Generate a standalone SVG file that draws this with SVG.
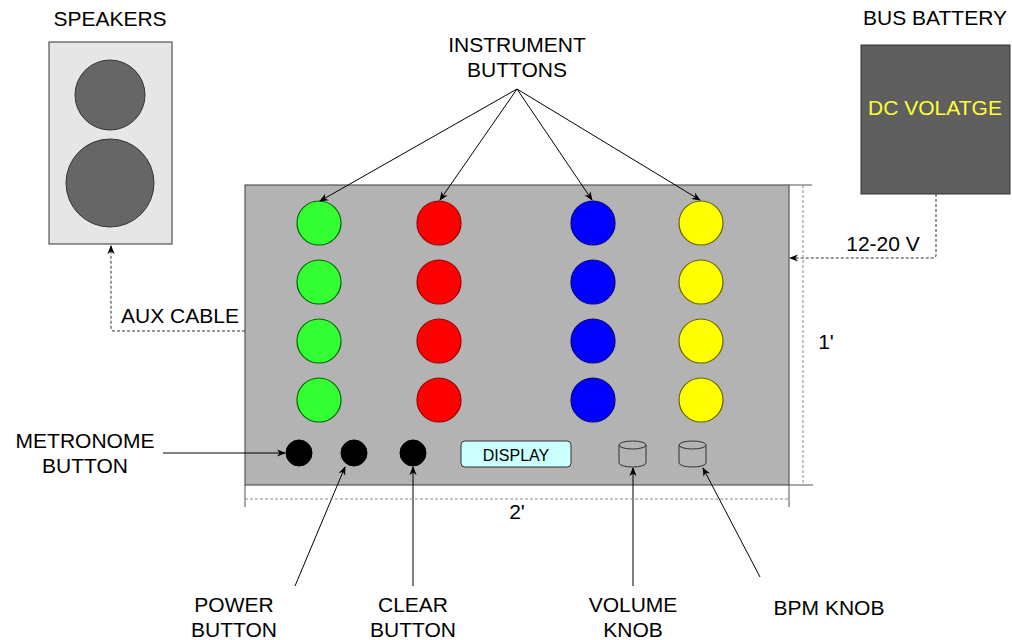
<svg xmlns="http://www.w3.org/2000/svg" width="1012" height="640" viewBox="0 0 1012 640">
<defs>
<style>
text{font-family:"Liberation Sans",Arial,sans-serif;fill:#000;}
.lbl{font-size:21px;text-anchor:middle;}
.conn{fill:none;stroke:#000;stroke-width:1;}
.dot{fill:none;stroke:#333;stroke-width:1;stroke-dasharray:3 2;}
.dim{fill:none;stroke:#888;stroke-width:1;stroke-dasharray:3 2;}
.ext{fill:none;stroke:#555;stroke-width:1;}
.g{fill:#33ff33;stroke:#006600;stroke-width:1.2;}
.r{fill:#ff0000;stroke:#990000;stroke-width:1.2;}
.b{fill:#0000ff;stroke:#000080;stroke-width:1.2;}
.y{fill:#ffff00;stroke:#666600;stroke-width:1.2;}
.k{fill:#000;stroke:#000;}
.knob{fill:none;stroke:#333;stroke-width:1;}
</style>
<marker id="arr" viewBox="0 0 10 10" refX="9" refY="5" markerWidth="9" markerHeight="9" orient="auto" markerUnits="userSpaceOnUse">
<path d="M0,1 L10,5 L0,9 L3,5 Z" fill="#000"/>
</marker>
</defs>
<rect width="1012" height="640" fill="#fff"/>

<g id="speakers">
<text class="lbl" x="110" y="26">SPEAKERS</text>
<rect x="49" y="42" width="123" height="202" fill="#e6e6e6" stroke="#333" stroke-width="1"/>
<circle cx="110" cy="95" r="35" fill="#666" stroke="#333"/>
<circle cx="110" cy="183" r="44" fill="#666" stroke="#333"/>
</g>

<g id="battery">
<text class="lbl" x="935" y="25">BUS BATTERY</text>
<rect x="861" y="45" width="149" height="149" fill="#5f5f5f" stroke="#333"/>
<text class="lbl" x="935" y="115" style="fill:#ffff33">DC VOLATGE</text>
</g>

<g id="board">
<rect x="245" y="185" width="544" height="300" fill="#b3b3b3" stroke="#555" stroke-width="1.2"/>
<path class="ext" d="M789,185 H812 M789,485 H813 M245,485 V507 M789,485 V507"/>
</g>

<g id="instrument-buttons">
<circle class="g" cx="319" cy="223" r="22"/>
<circle class="g" cx="319" cy="282" r="22"/>
<circle class="g" cx="319" cy="341" r="22"/>
<circle class="g" cx="319" cy="400" r="22"/>
<circle class="r" cx="439" cy="223" r="22"/>
<circle class="r" cx="439" cy="282" r="22"/>
<circle class="r" cx="439" cy="341" r="22"/>
<circle class="r" cx="439" cy="400" r="22"/>
<circle class="b" cx="593" cy="223" r="22"/>
<circle class="b" cx="593" cy="282" r="22"/>
<circle class="b" cx="593" cy="341" r="22"/>
<circle class="b" cx="593" cy="400" r="22"/>
<circle class="y" cx="701" cy="223" r="22"/>
<circle class="y" cx="701" cy="282" r="22"/>
<circle class="y" cx="701" cy="341" r="22"/>
<circle class="y" cx="701" cy="400" r="22"/>
</g>

<g id="metronome-button"><circle class="k" cx="299" cy="453" r="13"/></g>
<g id="power-button"><circle class="k" cx="354" cy="453" r="13"/></g>
<g id="clear-button"><circle class="k" cx="413" cy="453" r="13"/></g>

<g id="display">
<rect x="461" y="441" width="110" height="26" rx="4" ry="4" fill="#ccffff" stroke="#333"/>
<text x="516" y="461" style="font-size:16px;text-anchor:middle">DISPLAY</text>
</g>

<g id="volume-knob">
<path class="knob" d="M619,445 V463 A13.5,4 0 0 0 646,463 V445 A13.5,4 0 0 0 619,445 A13.5,4 0 0 0 646,445"/>
</g>
<g id="bpm-knob">
<path class="knob" d="M679,445 V463 A13.5,4 0 0 0 706,463 V445 A13.5,4 0 0 0 679,445 A13.5,4 0 0 0 706,445"/>
</g>

<g id="labels">
<text class="lbl" x="517" y="52">INSTRUMENT</text>
<text class="lbl" x="517" y="77">BUTTONS</text>
<text class="lbl" x="85" y="448">METRONOME</text>
<text class="lbl" x="85" y="473">BUTTON</text>
<text class="lbl" x="234" y="612">POWER</text>
<text class="lbl" x="234" y="637">BUTTON</text>
<text class="lbl" x="413" y="612">CLEAR</text>
<text class="lbl" x="413" y="637">BUTTON</text>
<text class="lbl" x="633" y="612">VOLUME</text>
<text class="lbl" x="633" y="637">KNOB</text>
<text class="lbl" x="829" y="615">BPM KNOB</text>
<text class="lbl" x="180" y="323">AUX CABLE</text>
<text class="lbl" x="883" y="251">12-20 V</text>
<text class="lbl" x="826" y="349">1'</text>
<text class="lbl" x="517" y="519">2'</text>
</g>

<g id="connectors">
<path class="conn" d="M517,89 L320,201" marker-end="url(#arr)"/>
<path class="conn" d="M517,89 L440,200" marker-end="url(#arr)"/>
<path class="conn" d="M517,89 L592,200" marker-end="url(#arr)"/>
<path class="conn" d="M517,89 L700,200" marker-end="url(#arr)"/>
<path class="conn" d="M163,453 L285,453" marker-end="url(#arr)"/>
<path class="conn" d="M295,586 L345,467" marker-end="url(#arr)"/>
<path class="conn" d="M413,586 L413,467" marker-end="url(#arr)"/>
<path class="conn" d="M633,586 L633,468" marker-end="url(#arr)"/>
<path class="conn" d="M760,577 L703,468" marker-end="url(#arr)"/>
<path class="dot" d="M245,331 H114 Q111,331 111,328 V246" marker-end="url(#arr)"/>
<path class="dot" d="M936,194 V255 Q936,258 933,258 H790" marker-end="url(#arr)"/>
<path class="dim" d="M803,185 V485"/>
<path class="dim" d="M245,499 H789"/>
</g>
</svg>
